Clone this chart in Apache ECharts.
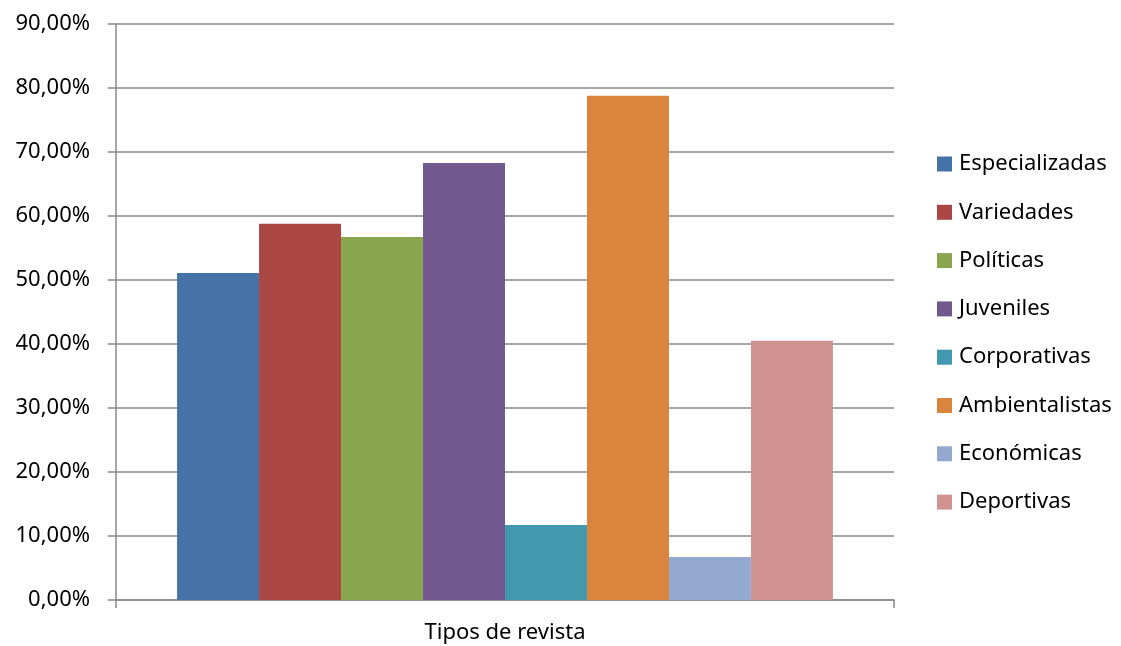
<!DOCTYPE html>
<html>
<head>
<meta charset="utf-8">
<script src="https://cdn.jsdelivr.net/npm/echarts@6/dist/echarts.min.js"></script>
<style>
  html, body { margin: 0; padding: 0; background: #fff; }
  #chart { width: 1121px; height: 646px; }
</style>
</head>
<body>
<div id="chart"></div>
<script>
// datos
const categories = ['Tipos de revista']
const seriesNames = ['Especializadas', 'Variedades', 'Políticas', 'Juveniles', 'Corporativas', 'Ambientalistas', 'Económicas', 'Deportivas']
const seriesValues = [51.1, 58.8, 56.7, 68.3, 11.7, 78.8, 6.7, 40.5]
const colors = ['#4572A7', '#AA4643', '#89A54E', '#71588F', '#4198AF', '#DB843D', '#93A9CF', '#D19392']

const font = 'Noto Sans'
const chart = echarts.init(document.getElementById('chart'))

const option = {
  animation: false,
  color: colors,
  grid: { left: 116, right: 227, top: 24, bottom: 46 },
  legend: {
    orient: 'vertical',
    left: 932,
    top: 148,
    itemWidth: 15,
    itemHeight: 15,
    itemGap: 26.3,
    icon: 'rect',
    textStyle: { fontFamily: font, fontSize: 22, color: '#000', lineHeight: 22, padding: [0, 0, 0, 2] },
    data: seriesNames
  },
  xAxis: {
    type: 'category',
    data: categories,
    axisLine: { lineStyle: { color: '#888', width: 1.5 } },
    axisTick: { show: true, length: 8, lineStyle: { color: '#888', width: 1.5 } },
    axisLabel: { color: '#000', fontFamily: font, fontSize: 22, margin: 22 }
  },
  yAxis: {
    type: 'value',
    min: 0,
    max: 90,
    interval: 10,
    axisLine: { show: true, lineStyle: { color: '#888', width: 1.5 } },
    axisTick: { show: true, length: 8, lineStyle: { color: '#888', width: 1.5 } },
    splitLine: { lineStyle: { color: '#888', width: 1.5 } },
    axisLabel: {
      color: '#000',
      fontFamily: font,
      fontSize: 22,
      margin: 26,
      formatter: v => v.toFixed(2).replace('.', ',') + '%'
    }
  },
  series: seriesNames.map((name, i) => ({
    name: name,
    type: 'bar',
    barGap: 0,
    barCategoryGap: '15.7%',
    data: [seriesValues[i]]
  }))
}

chart.setOption(option)
</script>
</body>
</html>
